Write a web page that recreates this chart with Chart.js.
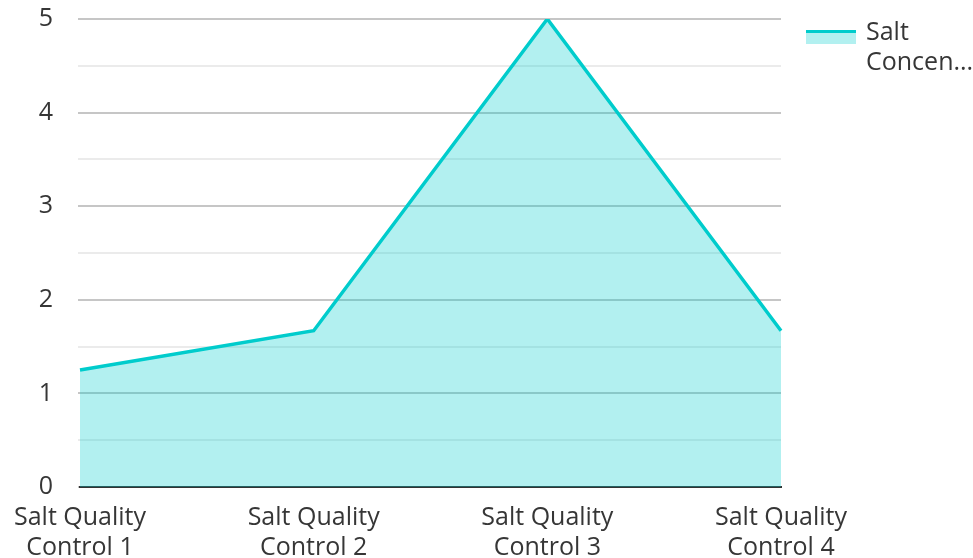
<!DOCTYPE html>
<html>
<head>
<meta charset="utf-8">
<script src="https://cdn.jsdelivr.net/npm/chart.js@4"></script>
<style>
  html, body { margin: 0; padding: 0; background: #fff; }
  #wrap { width: 973px; height: 558px; }
</style>
</head>
<body>
<div id="wrap"><canvas id="chart"></canvas></div>
<script>
const categories = [
    ['Salt Quality', 'Control 1'],
    ['Salt Quality', 'Control 2'],
    ['Salt Quality', 'Control 3'],
    ['Salt Quality', 'Control 4']
];
const saltValues = [1.25, 1.67, 5, 1.67];
const seriesName = 'Salt Concentration';
const legendLines = ['Salt', 'Concen...'];

const lineColor = 'rgb(0, 204, 204)';
const fillColor = 'rgba(0, 204, 204, 0.3)';
const textColor = '#363636';
const fontSize = 25;

// legend drawn by hand so the name can wrap and be cut like the original
const sideLegend = {
    id: 'sideLegend',
    afterDraw(chart) {
        const ctx = chart.ctx;
        const ds = chart.data.datasets[0];
        ctx.save();
        ctx.fillStyle = ds.backgroundColor;
        ctx.fillRect(806, 31, 50, 13);
        ctx.fillStyle = ds.borderColor;
        ctx.fillRect(806, 30, 50, 3);
        ctx.fillStyle = textColor;
        ctx.font = fontSize + 'px "Open Sans"';
        ctx.textBaseline = 'middle';
        legendLines.forEach(function (t, i) {
            ctx.fillText(t, 866, 33 + i * 30);
        });
        ctx.restore();
    }
};

const ctx = document.getElementById('chart');
new Chart(ctx, {
    type: 'line',
    data: {
        labels: categories,
        datasets: [{
            label: seriesName,
            data: saltValues,
            borderColor: lineColor,
            backgroundColor: fillColor,
            borderWidth: 3.5,
            fill: 'origin',
            pointRadius: 0,
            tension: 0
        }]
    },
    options: {
        responsive: true,
        maintainAspectRatio: false,
        animation: false,
        layout: {
            padding: { top: 19, right: 192, left: 0, bottom: 0 }
        },
        plugins: {
            legend: { display: false },
            tooltip: { enabled: false }
        },
        scales: {
            x: {
                offset: false,
                grid: { display: false },
                border: { display: true, color: '#333333', width: 2 },
                ticks: {
                    color: textColor,
                    font: { family: 'Open Sans', size: fontSize, lineHeight: 1.2 },
                    maxRotation: 0,
                    autoSkip: false,
                    padding: 8
                },
                afterFit: function (s) {
                    s.height = 71;
                    s.paddingLeft = 0;
                    s.paddingRight = 0;
                }
            },
            y: {
                min: 0,
                max: 5,
                border: { display: false },
                grid: {
                    color: function (c) {
                        const v = c.tick.value;
                        return Number.isInteger(v) ? '#c6c6c6' : '#ebebeb';
                    },
                    lineWidth: 2,
                    tickLength: 2
                },
                ticks: {
                    stepSize: 0.5,
                    color: textColor,
                    font: { family: 'Open Sans', size: fontSize },
                    padding: 25,
                    callback: function (v) {
                        return Number.isInteger(v) ? v : '';
                    }
                },
                afterFit: function (s) {
                    s.width = 80;
                    s.paddingTop = 0;
                    s.paddingBottom = 0;
                }
            }
        }
    },
    plugins: [sideLegend]
});
</script>
</body>
</html>
